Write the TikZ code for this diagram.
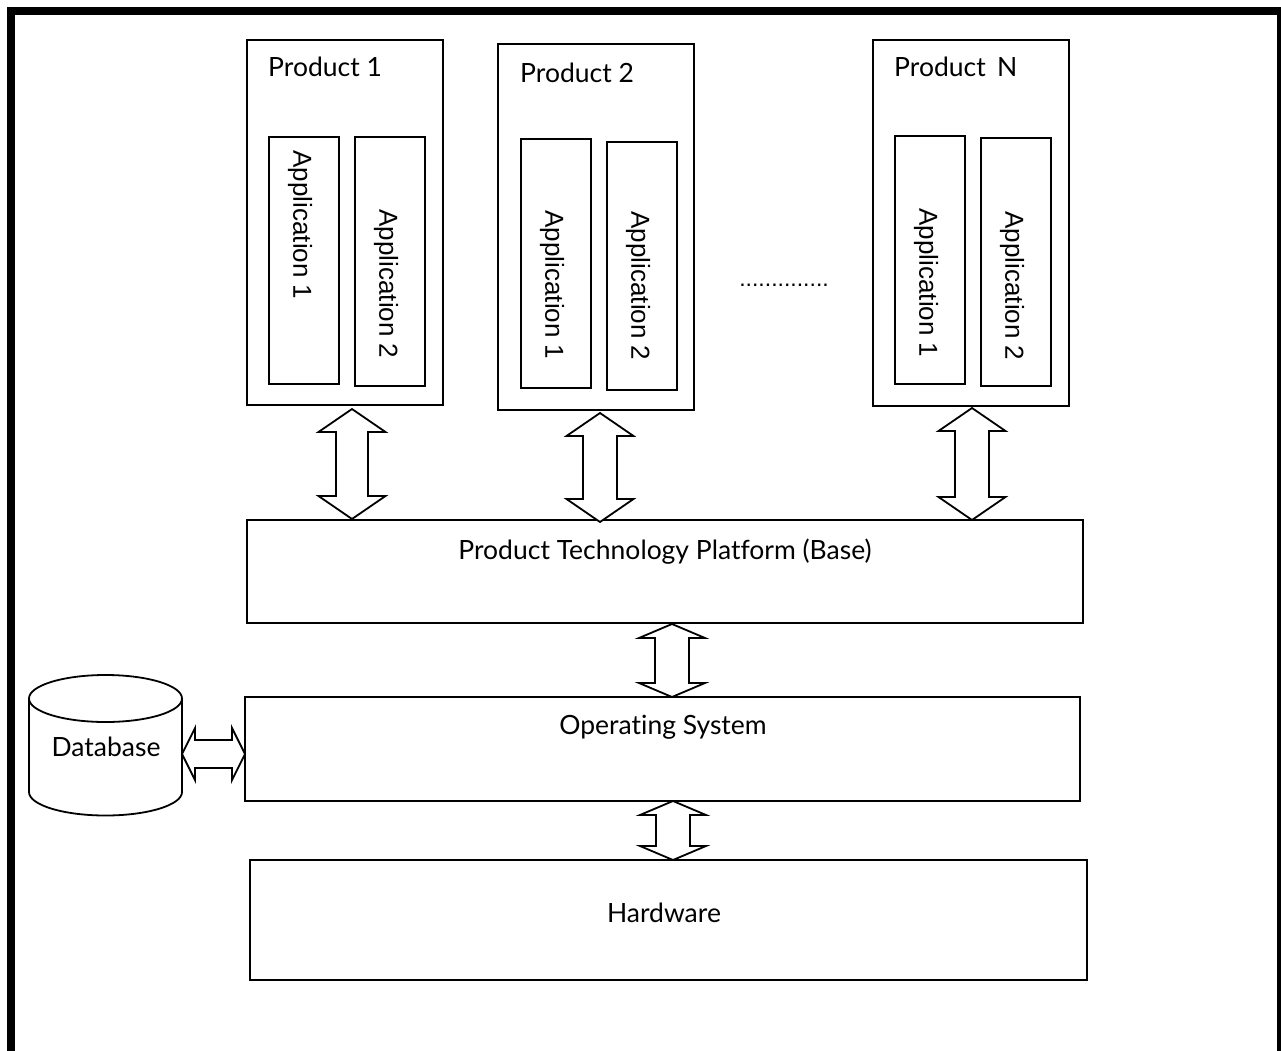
\documentclass[tikz,border=0pt]{standalone}
\usepackage{fontspec}
\setmainfont{Lato}[Ligatures={NoCommon}]
\newfontfamily\appfont{Liberation Sans}
\usetikzlibrary{fit}
\tikzset{
  box/.style={draw, line width=1.8pt, inner sep=0pt},
  appbox/.style={draw, line width=1.8pt, inner sep=0pt},
  lbl/.style={inner sep=0pt, font=\fontsize{26.5}{30}\selectfont},
  applbl/.style={inner sep=0pt, rotate=-90, font=\appfont\fontsize{26}{30}\selectfont},
  arr/.style={draw, line width=1.8pt, line join=miter, fill=white},
}
% vertical double block arrow: x, ytop, ybot, headlen, head half width, shaft half width
\newcommand\vdarrow[6]{%
  \draw[arr] (#1,#2) -- (#1+#5,#2+#4) -- (#1+#6,#2+#4) -- (#1+#6,#3-#4) -- (#1+#5,#3-#4)
    -- (#1,#3) -- (#1-#5,#3-#4) -- (#1-#6,#3-#4) -- (#1-#6,#2+#4) -- (#1-#5,#2+#4) -- cycle;}
% horizontal double block arrow: y, xleft, xright, headlen, head half height, shaft half height
\newcommand\hdarrow[6]{%
  \draw[arr] (#2,#1) -- (#2+#4,#1-#5) -- (#2+#4,#1-#6) -- (#3-#4,#1-#6) -- (#3-#4,#1-#5)
    -- (#3,#1) -- (#3-#4,#1+#5) -- (#3-#4,#1+#6) -- (#2+#4,#1+#6) -- (#2+#4,#1+#5) -- cycle;}
\begin{document}
\begin{tikzpicture}[x=1pt, y=-1pt]
\useasboundingbox (0,0) rectangle (1281,1051);
\begin{scope}
\clip (0,0) rectangle (1281,1051);
\draw[line width=8pt] (11,11) rectangle (1281,1080);
\end{scope}

% products
\node[box, fit={(247,40) (443,405)}] (p1) {};
\node[box, fit={(498,44) (694,410)}] (p2) {};
\node[box, fit={(873,40) (1069,406)}] (pn) {};
\node[lbl, anchor=west] (p1t) at (268,67) {Product 1};
\node[lbl, anchor=west] (p2t) at (520,73) {Product 2};
\node[lbl, anchor=west] (pnt) at (894,67) {Product\, N};

% applications
\node[appbox, fit={(269,137) (339,384)}] (a11) {};
\node[appbox, fit={(355,137) (425,386)}] (a12) {};
\node[appbox, fit={(521,139) (591,388)}] (a21) {};
\node[appbox, fit={(607,142) (677,390)}] (a22) {};
\node[appbox, fit={(895,136) (965,384)}] (an1) {};
\node[appbox, fit={(981,138) (1051,386)}] (an2) {};
\node[applbl] (a11t) at (300,225) {Application 1};
\node[applbl] (a12t) at (386,284) {Application 2};
\node[applbl] (a21t) at (552,285) {Application 1};
\node[applbl] (a22t) at (638,286) {Application 2};
\node[applbl] (an1t) at (926,283) {Application 1};
\node[applbl] (an2t) at (1012,286) {Application 2};

\node[inner sep=0pt, anchor=base, font=\appfont\fontsize{23}{27}\selectfont] (dots) at (784,286) {..............};

% layers
\node[box, fit={(247,520) (1083,623)}] (ptp) {};
\node[box, fit={(245,697) (1080,801)}] (os) {};
\node[box, fit={(250,860) (1087,980)}] (hw) {};
\node[lbl] (ptpt) at (665,552) {Product Technology Platform (Base)};
\node[lbl] (ost) at (663,727) {Operating System};
\node[lbl] (hwt) at (664,913) {Hardware};

% database
\draw[line width=1.8pt] (29,698) -- (29,792) arc (180:0:76.5 and 23.5) -- (182,698);
\draw[line width=1.8pt] (105.5,698.5) ellipse (76.5 and 23.5);
\node[lbl] (db) at (106,747) {Database};

% arrows
\vdarrow{352}{409}{519}{23}{33.5}{16}
\vdarrow{600}{413}{522}{23}{33.5}{17}
\vdarrow{972}{408}{520}{23}{33.5}{17}
\vdarrow{672}{624}{697}{14}{33}{17}
\vdarrow{673}{801}{860}{14}{33}{17}
\hdarrow{754}{182}{245}{13}{26}{14}
\end{tikzpicture}
\end{document}
